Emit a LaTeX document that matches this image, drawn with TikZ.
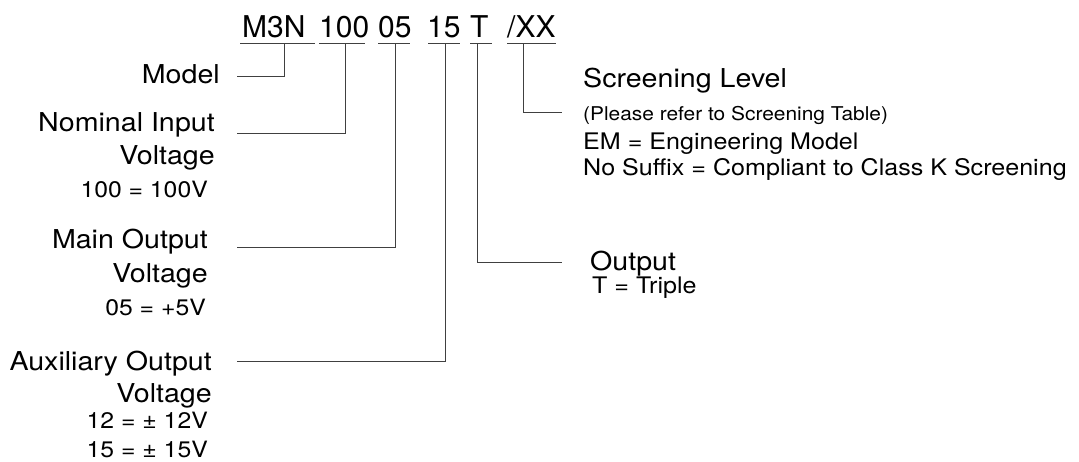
\documentclass[tikz,border=0pt]{standalone}
\usepackage{fontspec}
\setmainfont{TeX Gyre Heros}[FakeStretch=1.1]
\newfontfamily\titlefont{TeX Gyre Heros}
\begin{document}
\begin{tikzpicture}[x=1pt,y=-1pt,
  conn/.style={draw=black!75, line width=0.9pt},
  ttl/.style={inner sep=0pt, anchor=base west, font=\titlefont\fontsize{30}{30}\selectfont},
  lbl/.style={inner sep=0pt, anchor=base east, font=\fontsize{26}{26}\selectfont},
  val/.style={inner sep=0pt, anchor=base east, font=\fontsize{22.5}{22.5}\selectfont},
  rlbl/.style={inner sep=0pt, anchor=base west, font=\fontsize{26}{26}\selectfont},
  rval/.style={inner sep=0pt, anchor=base west, font=\fontsize{22.8}{22.8}\selectfont},
  rsmall/.style={inner sep=0pt, anchor=base west, font=\fontsize{19}{19}\selectfont}]
\useasboundingbox (0,0) rectangle (1079,461);
% title parts
\node[ttl] (tM)  at (242,37) {M3N};
\node[ttl] (t100) at (319,37) {100};
\node[ttl] (t05) at (378,37) {05};
\node[ttl] (t15) at (427,37) {15};
\node[ttl] (tT)  at (470,37) {T};
\node[ttl] (tX)  at (507,37) {/XX};
% underlines
\coordinate (uM1) at (240,43);  \coordinate (uM2) at (315,43);
\coordinate (u1001) at (319,43); \coordinate (u1002) at (365,43);
\coordinate (u051) at (378,43); \coordinate (u052) at (410,43);
\coordinate (u151) at (428,43); \coordinate (u152) at (460,43);
\coordinate (uT1) at (470,43);  \coordinate (uT2) at (492,43);
\coordinate (uX1) at (507,43);  \coordinate (uX2) at (556,43);
\draw[conn] (uM1) -- (uM2);
\draw[conn] (u1001) -- (u1002);
\draw[conn] (u051) -- (u052);
\draw[conn] (u151) -- (u152);
\draw[conn] (uT1) -- (uT2);
\draw[conn] (uX1) -- (uX2);
% taps
\coordinate (pM) at (284,43);
\coordinate (p100) at (345,43);
\coordinate (p05) at (395,43);
\coordinate (p15) at (445,43);
\coordinate (pT) at (477,43);
\coordinate (pX) at (523,43);
% left labels
\node[lbl] (model) at (220,83) {Model};
\node[lbl] (nom1) at (215,131) {Nominal Input};
\node[lbl] (nom2) at (215,164) {Voltage};
\node[val] (nom3) at (208,197) {100 = 100V};
\node[lbl] (main1) at (208,248) {Main Output};
\node[lbl] (main2) at (208,282) {Voltage};
\node[val] (main3) at (206,315) {05 = +5V};
\node[lbl] (aux1) at (212,370) {Auxiliary Output};
\node[lbl] (aux2) at (212,402) {Voltage};
\node[val] (aux3) at (208,428) {12 = ± 12V};
\node[val] (aux4) at (208,457) {15 = ± 15V};
% right labels
\node[rlbl] (scr1) at (583,87) {Screening Level};
\node[rsmall] (scr2) at (583,120) {(Please refer to Screening Table)};
\node[rval] (scr3) at (583,149) {EM = Engineering Model};
\node[rval] (scr4) at (583,175) {No Suffix = Compliant to Class K Screening};
\node[rlbl] (out1) at (590,270) {Output};
\node[rval] (out2) at (592,293) {T = Triple};
% line ends
\coordinate (eM) at (237,76);
\coordinate (e100) at (237,133);
\coordinate (e05) at (237,247);
\coordinate (e15) at (237,361);
\coordinate (eT) at (562,262);
\coordinate (eX) at (562,112);
\draw[conn] (pM) |- (eM);
\draw[conn] (p100) |- (e100);
\draw[conn] (p05) |- (e05);
\draw[conn] (p15) |- (e15);
\draw[conn] (pT) |- (eT);
\draw[conn] (pX) |- (eX);
\end{tikzpicture}
\end{document}
